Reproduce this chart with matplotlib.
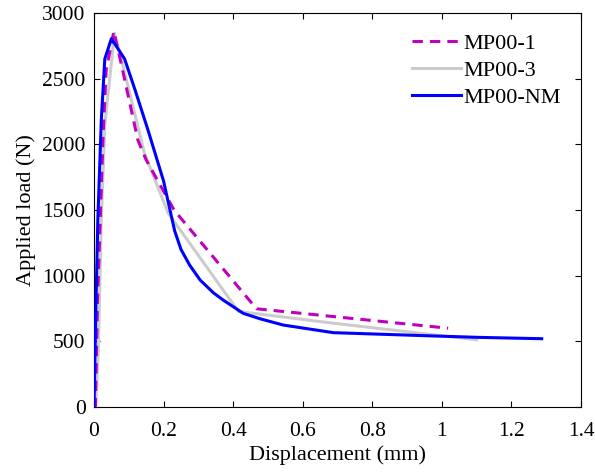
import matplotlib
matplotlib.use("Agg")
import matplotlib.pyplot as plt

# MP00-1 (dashed magenta)
x1 = [0.0, 0.004, 0.010, 0.026, 0.035, 0.057, 0.078, 0.126, 0.150, 0.230, 0.467, 1.018]
y1 = [0, 0, 800, 2058, 2566, 2860, 2616, 2033, 1881, 1500, 748, 600]

# MP00-3 (gray)
x3 = [0.005, 0.012, 0.021, 0.031, 0.059, 0.084, 0.145, 0.213, 0.415, 0.65, 1.10]
y3 = [0, 400, 1424, 2150, 2846, 2590, 1932, 1477, 728, 650, 512]

# MP00-NM (blue)
xn = [0.0, 0.005, 0.011, 0.021, 0.031, 0.050, 0.088, 0.118, 0.155, 0.185, 0.200, 0.215,
      0.232, 0.250, 0.275, 0.305, 0.343, 0.371, 0.429, 0.477, 0.544, 0.688, 0.975, 1.109, 1.287]
yn = [0, 700, 1427, 2186, 2650, 2805, 2650, 2414, 2110, 1850, 1720, 1540,
      1340, 1200, 1080, 967, 870, 815, 713, 672, 624, 566, 541, 530, 520]

labels = ["MP00-1", "MP00-3", "MP00-NM"]

plt.rcParams['font.family'] = ['Liberation Serif', 'DejaVu Serif']

fig = plt.figure(figsize=(5.95, 4.72), dpi=100)
ax = fig.add_axes([0.158, 0.1377, 0.8185, 0.8348])

ax.plot(x1, y1, color='#BF00BF', lw=2.2, ls=(0, (3.4, 2.3)), label=labels[0], zorder=3)
ax.plot(x3, y3, color='#CCCCCC', lw=2.2, label=labels[1], zorder=2)
ax.plot(xn, yn, color='#0000FF', lw=2.2, label=labels[2], zorder=4)

ax.set_xlim(0, 1.4)
ax.set_ylim(0, 3000)
ax.set_xticks([0, 0.2, 0.4, 0.6, 0.8, 1.0, 1.2, 1.4])
ax.set_xticklabels(['0', '0.2', '0.4', '0.6', '0.8', '1', '1.2', '1.4'])
ax.set_yticks([0, 500, 1000, 1500, 2000, 2500, 3000])
ax.tick_params(direction='in', top=True, right=True, labelsize=15.5, length=4, width=0.8)
ax.tick_params(axis='y', pad=6)
ax.tick_params(axis='x', pad=11)
for s in ax.spines.values():
    s.set_linewidth(0.8)
ax.set_xlabel('Displacement (mm)', fontsize=16, labelpad=3)
ax.set_ylabel('Applied load (N)', fontsize=16, labelpad=4.5)

leg = ax.legend(loc='upper right', frameon=False, fontsize=16, handlelength=2.2,
                handletextpad=0.1, labelspacing=0.3, borderaxespad=0.5)

fig.savefig('out.png', dpi=100)
